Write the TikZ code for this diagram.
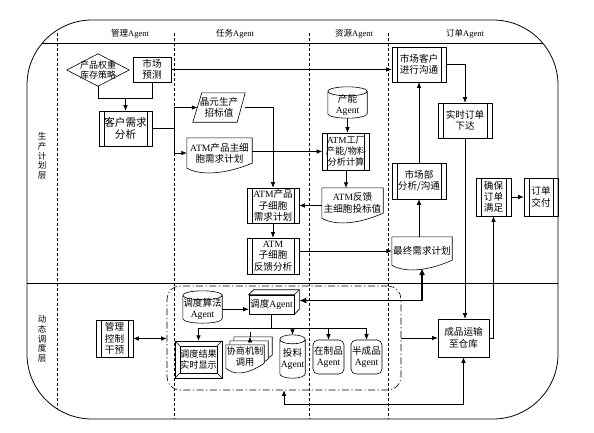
\documentclass[tikz,border=0pt]{standalone}
\usepackage{fontspec}
\setmainfont{Noto Sans CJK SC}
\newfontfamily\latf{Liberation Serif}
\usetikzlibrary{arrows.meta,calc}
\pgfdeclarelayer{bg}
\pgfsetlayers{bg,main}
\newcommand\AGt{{\latf Agent}}
\newcommand\ATMt{{\latf ATM}}
% document shape drawn under node #1, shifted by (#2,#3)
\newcommand\docw[3]{\draw[fill=white,line width=0.6pt] ($(#1.north west)+(#2,#3)$) -- ($(#1.north east)+(#2,#3)$) -- ($(#1.south east)+(#2,#3-5)$) .. controls ($(#1.south west)!0.55!(#1.south east)+(#2,#3+7)$) and ($(#1.south west)!0.2!(#1.south east)+(#2,#3+7)$) .. ($(#1.south west)+(#2,#3)$) -- cycle;}
% cylinder drawn round node #1, ellipse half height #2
\newcommand\cylw[2]{\draw[fill=white,line width=0.6pt] let \p1=(#1.north west), \p2=(#1.south east), \n1={(\x2-\x1)/2} in (\x1,\y1) -- (\x1,\y2+#2) arc[start angle=180,end angle=360,x radius=\n1,y radius=#2] -- (\x2,\y1) arc[start angle=0,end angle=180,x radius=\n1,y radius=#2] -- cycle (\x1,\y1) arc[start angle=180,end angle=360,x radius=\n1,y radius=#2];}
\begin{document}
\begin{tikzpicture}[x=1pt,y=-1pt,
 every node/.style={inner sep=0pt,align=center,font=\fontsize{9.6}{11.3}\selectfont},
 sz/.style 2 args={minimum width=#1pt,minimum height=#2pt},
 bx/.style={draw,line width=0.6pt},
 ppbox/.style={bx,path picture={\draw[line width=0.6pt] ([xshift=5pt]path picture bounding box.north west) -- ([xshift=5pt]path picture bounding box.south west) ([xshift=-5pt]path picture bounding box.north east) -- ([xshift=-5pt]path picture bounding box.south east);}},
 ln/.style={line width=0.6pt},
 arr/.style={ln,-{Latex[length=5.5pt,width=4.5pt]}},
 arrb/.style={ln,{Latex[length=5.5pt,width=4.5pt]}-{Latex[length=5.5pt,width=4.5pt]}},
 arrbig/.style={line width=1.2pt,{Latex[length=7pt,width=6pt]}-{Latex[length=7pt,width=6pt]}},
 hdr/.style={font=\fontsize{8.5}{10}\selectfont},
 side/.style={font=\fontsize{8.5}{9.8}\selectfont}]
\useasboundingbox (0,0) rectangle (594,432);

% headers and layer labels
\node[hdr] (h1) at (130,34) {管理\AGt};
\node[hdr] (h2) at (235,34) {任务\AGt};
\node[hdr] (h3) at (354,34) {资源\AGt};
\node[hdr] (h4) at (465,34) {订单\AGt};
\node[side] (s1) at (42,156) {生\\产\\计\\划\\层};
\node[side] (s2) at (42,339) {动\\态\\调\\度\\层};

% production planning layer
\node[sz={62}{32},font=\fontsize{9}{10.5}\selectfont] (dia) at (98,70) {产品权重\\库存策略};
\node[bx,sz={38}{25}] (mkt) at (152,69.5) {市场\\预测};
\node[ppbox,sz={53}{35},font=\fontsize{10.6}{12}\selectfont] (kh) at (125.5,128.5) {客户需求\\分析};
\node[sz={52}{29}] (jy) at (219,107.5) {晶元生产\\招标值};
\node[sz={65}{30}] (zx) at (219.5,153) {\ATMt 产品主细\\胞需求计划};
\node[ppbox,sz={52}{35}] (zf) at (273,205.5) {\ATMt 产品\\子细胞\\需求计划};
\node[ppbox,sz={52}{36}] (fa) at (273,256) {\ATMt\\子细胞\\反馈分析};
\node[sz={39}{26.5}] (cn) at (347.5,104.75) {产能\\\AGt};
\node[ppbox,sz={47}{37},font=\fontsize{9.2}{11}\selectfont] (gc) at (346,151.5) {\ATMt 工厂\\产能/物料\\分析计算};
\node[sz={61}{30}] (fk) at (352.5,203) {\ATMt 反馈\\主细胞投标值};
\node[sz={60}{28}] (zz) at (422,251) {最终需求计划};
\node[ppbox,sz={54}{36}] (scb) at (419,181) {市场部\\分析/沟通};
\node[ppbox,sz={54}{35}] (sck) at (419,64.5) {市场客户\\进行沟通};
\node[ppbox,sz={54}{35}] (ss) at (465,120.5) {实时订单\\下达};
\node[ppbox,sz={35}{38}] (qb) at (493.5,197) {确保\\订单\\满足};
\node[ppbox,sz={34}{38}] (jf) at (541,197) {订单\\交付};

% dynamic scheduling layer
\node[bx,sz={51}{38}] (cy) at (463.5,338) {成品运输\\至仓库};
\node[ppbox,sz={37}{37}] (gl) at (114.5,338.5) {管理\\控制\\干预};
\node[draw,ln,dash pattern=on 7pt off 2.5pt on 1.2pt off 2.5pt,rounded corners=13pt,sz={234}{104}] (grp) at (284,338) {};
\node[sz={39}{27.5}] (sf) at (202.5,309.25) {调度算法\\\AGt};
\node[bx,sz={45}{19}] (dd) at (271.5,304.5) {调度\AGt};
\node[sz={47}{37},font=\fontsize{9.2}{11}\selectfont] (res) at (198.5,359.5) {调度结果\\实时显示};
\node[sz={38}{23},font=\fontsize{9.2}{10.5}\selectfont] (xs) at (245,356.5) {协商机制\\调用};
\node[sz={25}{38.5}] (tl) at (292.5,358.75) {投料\\\AGt};
\node[bx,rounded corners=5pt,sz={31}{34}] (zp) at (328.5,357) {在制品\\\AGt};
\node[bx,rounded corners=5pt,sz={31}{34}] (bp) at (366.5,357) {半成品\\\AGt};

\coordinate (j1) at (125.5,98);
\coordinate (j2) at (174,128.5);
\coordinate (jyin) at ($(jy.west)+(4.5,0)$);
\coordinate (bus) at (0,328);

\begin{pgfonlayer}{bg}
 \draw[line width=0.8pt,rounded corners=65pt] (27,20) rectangle (558,419);
 \begin{scope}
  \clip[rounded corners=65pt] (27,20) rectangle (558,419);
  \draw[ln] (27,43) -- (558,43);
  \draw[ln] (27,283) -- (558,283);
  \foreach \xx in {57,174,309,388} \draw[ln,dash pattern=on 3pt off 2pt] (\xx,33) -- (\xx,419);
 \end{scope}
 \draw[ln] (dia.north) -- (dia.east) -- (dia.south) -- (dia.west) -- cycle;
 \draw[ln] ($(jy.north west)+(9,0)$) -- (jy.north east) -- ($(jy.south east)+(-8,0)$) -- (jy.south west) -- cycle;
 \docw{zx}{0}{0}
 \docw{fk}{0}{0}
 \docw{zz}{0}{0}
 \docw{xs}{8}{-8}
 \docw{xs}{4}{-4}
 \docw{xs}{0}{0}
 \cylw{cn}{4.5pt}
 \cylw{sf}{4.5pt}
 \cylw{tl}{4.5pt}
 % 3D box: top and right faces
 \draw[ln,fill=white] (dd.north west) -- ++(5,-5) -- ($(dd.north east)+(5,-5)$) -- ($(dd.south east)+(5,-5)$) -- (dd.south east) -- (dd.north east) -- cycle;
 \draw[ln] (dd.north east) -- ++(5,-5);
 % bevel box
 \draw[ln] (res.north west) rectangle (res.south east);
 \draw[ln] ($(res.north west)+(5,5)$) rectangle ($(res.south east)+(-5,-5)$);
 \draw[ln] (res.north west) -- +(5,5) (res.north east) -- +(-5,5) (res.south west) -- +(5,-5) (res.south east) -- +(-5,-5);
\end{pgfonlayer}

% connectors
\draw[ln] (dia.south) |- (mkt.south |- j1) -- (mkt.south);
\draw[arr] (j1) -- (kh.north);
\draw[arr] (mkt.east) -- (mkt.east -| sck.west);
\draw[ln] (kh.east) -- (j2);
\draw[arr] (j2) |- (jyin);
\draw[arr] (j2) |- (zx.west);
\draw[arr] (jy.east) -| (zf.north);
\draw[arr] (zx.east |- gc.west) -- (gc.west);
\draw[arr] (cn.south) -- (cn.south |- gc.north);
\draw[arr] (gc.south) -- (gc.south |- fk.north);
\draw[arr] (fk.west |- zf.east) -- (zf.east);
\draw[arr] (zf.south) -- (fa.north);
\draw[arr] (fa.east |- zz.west) -- (zz.west);
\draw[arr] (zz.north -| scb.south) -- (scb.south);
\draw[arr] (scb.north) -- (sck.south);
\draw[arr] (sck.east) -| (ss.north);
\draw[arr] (ss.south) -- (ss.south |- cy.north);
\draw[arr] (cy.east) -| (qb.south);
\draw[arr] (qb.east) -- (jf.west);
\draw[arr] (sf.east) -- (sf.east -| dd.west);
\draw[arrbig] ($(dd.east)+(5,-4)$) -| ($(zz.south)+(0,3)$);
\draw[ln] (dd.south) -- (dd.south |- bus);
\draw[ln] (res.north |- bus) -- (bp.north |- bus);
\draw[arr] (res.north |- bus) -- (res.north);
\draw[arr] ($(xs.north)+(5,-8)$ |- bus) -- ($(xs.north)+(5,-8)$);
\draw[arr] (tl.north |- bus) -- ($(tl.north)+(0,-4.5)$);
\draw[arr] (zp.north |- bus) -- (zp.north);
\draw[arr] (bp.north |- bus) -- (bp.north);
\draw[arr] (grp.east |- cy.west) -- (cy.west);
\draw[arrb] (grp.south) -- ++(0,14) -| (cy.south);
\draw[arrb] (gl.east) -- (gl.east -| grp.west);
\end{tikzpicture}
\end{document}
